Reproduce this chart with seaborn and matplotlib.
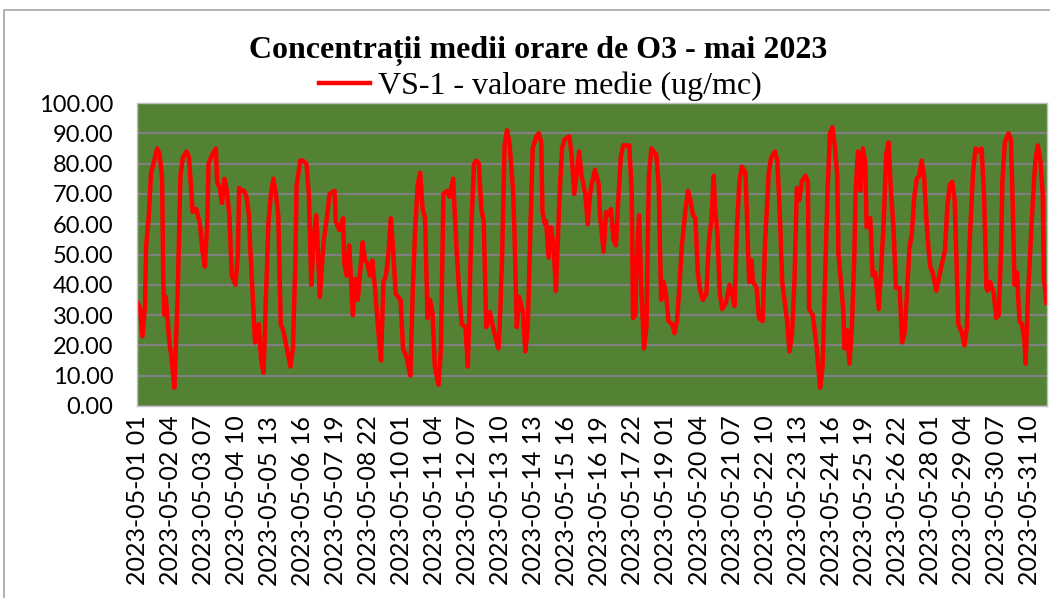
import pandas as pd
import seaborn as sns
import matplotlib.pyplot as plt
from matplotlib.patches import Rectangle

# hour offset from 2023-05-01 01 and hourly mean O3 (ug/mc) read at turning points
hours = [0, 2, 4, 6, 7, 9, 11, 13, 16, 18, 20, 21, 22, 23, 26, 28, 30, 31, 33, 35,
         37, 40, 42, 44, 45, 48, 51, 53, 55, 57, 58, 61, 64, 65, 67, 69, 71, 73, 75, 77,
         80, 82, 83, 85, 87, 89, 91, 92, 94, 96, 99, 101, 103, 105, 107, 109, 111, 113, 115, 117,
         119, 122, 125, 127, 129, 130, 133, 135, 138, 140, 141, 142, 144, 146, 147, 149, 151, 152, 155, 157,
         161, 162, 165, 168, 169, 171, 173, 176, 178, 180, 184, 186, 188, 190, 192, 194, 197, 199, 201, 203,
         205, 207, 209, 211, 215, 217, 220, 223, 225, 227, 229, 231, 233, 235, 237, 239, 241, 243, 246, 248,
         250, 253, 255, 257, 258, 259, 261, 263, 265, 268, 270, 273, 275, 277, 279, 281, 283, 285, 288, 290,
         293, 295, 296, 298, 300, 302, 304, 307, 308, 310, 312, 315, 317, 319, 321, 323, 326, 328, 330, 331,
         333, 334, 336, 338, 340, 342, 345, 347, 349, 353, 355, 357, 361, 363, 366, 368, 370, 371, 374, 377,
         378, 381, 383, 385, 387, 389, 391, 393, 395, 397, 400, 402, 404, 405, 407, 408, 410, 412, 414, 416,
         418, 420, 422, 424, 426, 428, 430, 432, 434, 437, 439, 441, 443, 445, 448, 450, 452, 454, 456, 458,
         460, 462, 465, 467, 469, 471, 472, 474, 476, 478, 481, 484, 486, 488, 490, 492, 494, 497, 498, 500,
         502, 503, 506, 508, 511, 513, 516, 518, 521, 523, 525, 527, 531, 533, 535, 537, 539, 541, 543, 546,
         548, 549, 552, 555, 558, 560, 562, 564, 566, 568, 570, 572, 573, 575, 577, 578, 580, 582, 584, 586,
         587, 589, 591, 593, 595, 596, 599, 601, 603, 606, 608, 610, 612, 614, 616, 618, 620, 623, 625, 627,
         629, 631, 633, 635, 637, 639, 641, 643, 645, 646, 648, 650, 653, 655, 657, 660, 662, 664, 666, 668,
         670, 671, 674, 676, 678, 680, 683, 685, 687, 690, 692, 694, 695, 697, 700, 702, 704, 706, 707, 709,
         712, 714, 715, 717, 719, 721, 723, 725, 726, 728, 731, 733, 734, 736, 738, 740, 741, 743]
o3 = [34, 32, 23, 33, 53, 62, 77, 80, 85, 83, 75, 41, 30, 36, 21, 15, 6, 16, 41, 76,
      82, 84, 82, 70, 64, 65, 60, 51, 46, 61, 80, 83, 85, 74, 72, 67, 75, 71, 63, 43,
      40, 50, 72, 71, 71, 69, 63, 53, 37, 21, 27, 15, 11, 37, 61, 70, 75, 70, 63, 27,
      25, 19, 13, 19, 48, 73, 81, 81, 80, 70, 54, 40, 56, 63, 55, 36, 48, 54, 63, 70,
      71, 61, 58, 62, 47, 43, 53, 30, 42, 35, 54, 48, 47, 43, 48, 39, 24, 15, 41, 43,
      50, 62, 51, 37, 35, 19, 16, 10, 39, 59, 73, 77, 65, 62, 29, 35, 31, 13, 7, 19,
      70, 71, 69, 73, 75, 66, 50, 37, 27, 26, 13, 61, 80, 81, 80, 65, 61, 26, 31, 27,
      22, 19, 26, 49, 86, 91, 87, 71, 59, 26, 36, 31, 18, 26, 57, 85, 89, 90, 87, 64,
      60, 61, 49, 59, 53, 38, 70, 85, 88, 89, 82, 70, 84, 76, 70, 60, 70, 73, 78, 73,
      63, 51, 64, 63, 65, 55, 53, 68, 82, 86, 86, 86, 70, 29, 30, 48, 63, 37, 19, 26,
      76, 85, 84, 83, 73, 35, 41, 37, 28, 27, 24, 28, 40, 53, 65, 71, 68, 63, 62, 44,
      38, 35, 37, 54, 61, 76, 66, 57, 37, 32, 34, 40, 37, 33, 59, 74, 79, 77, 65, 41,
      48, 41, 39, 29, 28, 54, 77, 82, 84, 81, 64, 41, 28, 18, 24, 41, 72, 68, 74, 76,
      74, 32, 30, 20, 6, 13, 41, 70, 90, 92, 86, 76, 50, 41, 31, 19, 25, 14, 26, 50,
      71, 84, 71, 85, 80, 59, 62, 43, 44, 32, 46, 61, 83, 87, 70, 59, 39, 39, 21, 24,
      37, 52, 57, 69, 75, 76, 81, 76, 61, 55, 46, 44, 38, 42, 46, 51, 66, 73, 74, 68,
      41, 27, 24, 20, 26, 52, 77, 85, 84, 85, 70, 39, 38, 41, 37, 29, 30, 52, 74, 87,
      90, 88, 74, 40, 44, 28, 27, 22, 14, 37, 61, 75, 81, 86, 81, 70, 42, 34]

tick_pos = list(range(0, 730, 27))
tick_labels = ["2023-05-01 01", "2023-05-02 04", "2023-05-03 07", "2023-05-04 10",
               "2023-05-05 13", "2023-05-06 16", "2023-05-07 19", "2023-05-08 22",
               "2023-05-10 01", "2023-05-11 04", "2023-05-12 07", "2023-05-13 10",
               "2023-05-14 13", "2023-05-15 16", "2023-05-16 19", "2023-05-17 22",
               "2023-05-19 01", "2023-05-20 04", "2023-05-21 07", "2023-05-22 10",
               "2023-05-23 13", "2023-05-24 16", "2023-05-25 19", "2023-05-26 22",
               "2023-05-28 01", "2023-05-29 04", "2023-05-30 07", "2023-05-31 10"]
n_hours = 744

df = pd.DataFrame({"ora": hours, "valoare": o3})

fig = plt.figure(figsize=(10.5, 5.98), dpi=100)
ax = fig.add_axes([137 / 1050, 1 - 406 / 598, 910 / 1050, 303 / 598])
ax.set_facecolor("#548235")

sns.lineplot(data=df, x="ora", y="valoare", ax=ax, color="#FF0000", linewidth=3.2,
             label="VS-1 - valoare medie (ug/mc)")

ax.set_xlim(-0.5, n_hours - 0.5)
ax.set_ylim(0, 100)
ax.set_yticks(range(0, 101, 10))
ax.set_yticklabels([f"{v:.2f}" for v in range(0, 101, 10)], fontsize=17, family="Lato")
ax.set_xticks(tick_pos)
ax.set_xticklabels(tick_labels, rotation=90, fontsize=18, family="Lato")
ax.tick_params(axis="y", length=0, pad=17)
ax.tick_params(axis="x", length=0, pad=7)
ax.set_xlabel("")
ax.set_ylabel("")
ax.grid(axis="y", color="#808080", linewidth=1.5)
ax.set_axisbelow(True)
for s in ax.spines.values():
    s.set_color("#BFBFBF")
    s.set_linewidth(1)

ax.legend(loc="center", bbox_to_anchor=(0.443, 1.055), frameon=False, handlelength=1.6,
          handletextpad=0.25, prop={"family": "Liberation Serif", "size": 23})

fig.text(538 / 1050, 1 - 51 / 598, "Concentrații medii orare de O3 - mai 2023",
         ha="center", va="center", family="Liberation Serif", weight="bold", fontsize=23)

fig.add_artist(Rectangle((4 / 1050, -0.1), 1.2, 1.1 - 10 / 598, transform=fig.transFigure,
                         fill=False, edgecolor="#A6A6A6", linewidth=1.2))

plt.savefig("out.png", dpi=100)
